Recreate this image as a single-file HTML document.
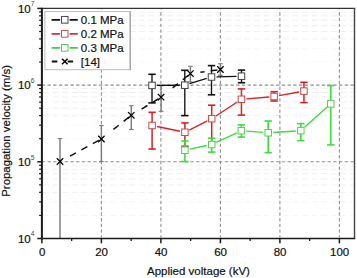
<!DOCTYPE html>
<html><head><meta charset="utf-8"><style>
html,body{margin:0;padding:0;background:#fff;}
body{width:357px;height:278px;overflow:hidden;font-family:"Liberation Sans",sans-serif;}
svg{display:block;}
</style></head><body>
<svg width="357" height="278" viewBox="0 0 357 278">
<rect width="357" height="278" fill="#fff"/>
<g stroke="#f0f0f0" stroke-width="1" stroke-dasharray="6.2 3.4" fill="none">
<line x1="42.9" y1="215.41" x2="354" y2="215.41" stroke="#f6f6f6"/>
<line x1="42.9" y1="201.9" x2="354" y2="201.9" stroke="#f6f6f6"/>
<line x1="42.9" y1="192.32" x2="354" y2="192.32"/>
<line x1="42.9" y1="184.89" x2="354" y2="184.89"/>
<line x1="42.9" y1="178.82" x2="354" y2="178.82"/>
<line x1="42.9" y1="173.68" x2="354" y2="173.68"/>
<line x1="42.9" y1="169.23" x2="354" y2="169.23"/>
<line x1="42.9" y1="165.31" x2="354" y2="165.31"/>
<line x1="42.9" y1="138.71" x2="354" y2="138.71" stroke="#f9f9f9"/>
<line x1="42.9" y1="125.2" x2="354" y2="125.2" stroke="#f9f9f9"/>
<line x1="42.9" y1="115.62" x2="354" y2="115.62"/>
<line x1="42.9" y1="108.19" x2="354" y2="108.19"/>
<line x1="42.9" y1="102.12" x2="354" y2="102.12"/>
<line x1="42.9" y1="96.98" x2="354" y2="96.98"/>
<line x1="42.9" y1="92.53" x2="354" y2="92.53"/>
<line x1="42.9" y1="88.61" x2="354" y2="88.61"/>
<line x1="42.9" y1="62.01" x2="354" y2="62.01" stroke="#f9f9f9"/>
<line x1="42.9" y1="48.5" x2="354" y2="48.5" stroke="#f9f9f9"/>
<line x1="42.9" y1="38.92" x2="354" y2="38.92"/>
<line x1="42.9" y1="31.49" x2="354" y2="31.49"/>
<line x1="42.9" y1="25.42" x2="354" y2="25.42"/>
<line x1="42.9" y1="20.28" x2="354" y2="20.28"/>
<line x1="42.9" y1="15.83" x2="354" y2="15.83"/>
<line x1="42.9" y1="11.91" x2="354" y2="11.91"/>
</g>
<g stroke="#909090" stroke-width="1.1" stroke-dasharray="3.4 2.315" fill="none">
<line x1="42.9" y1="161.8" x2="354" y2="161.8" stroke-dashoffset="-4.6"/>
<line x1="42.9" y1="85.1" x2="354" y2="85.1" stroke-dashoffset="-4.6"/>
<line x1="101.4" y1="9.4" x2="101.4" y2="237.5" stroke-dashoffset="-2.85"/>
<line x1="160.9" y1="9.4" x2="160.9" y2="237.5" stroke-dashoffset="-2.85"/>
<line x1="220.4" y1="9.4" x2="220.4" y2="237.5" stroke-dashoffset="-2.85"/>
<line x1="279.9" y1="9.4" x2="279.9" y2="237.5" stroke-dashoffset="-2.85"/>
<line x1="339.4" y1="9.4" x2="339.4" y2="237.5" stroke-dashoffset="-2.85"/>
</g>
<g stroke="#7c7c7c" stroke-width="1.45" fill="none">
<line x1="60" y1="138.6" x2="60" y2="239"/>
<line x1="57.7" y1="138.6" x2="62.3" y2="138.6" stroke-width="1.1"/>
<line x1="101.4" y1="125.5" x2="101.4" y2="161.5"/>
<line x1="99.1" y1="125.5" x2="103.7" y2="125.5" stroke-width="1.1"/>
<line x1="99.1" y1="161.5" x2="103.7" y2="161.5" stroke-width="1.2"/>
<line x1="131.3" y1="105.7" x2="131.3" y2="129.5"/>
<line x1="129" y1="105.7" x2="133.6" y2="105.7" stroke-width="1.1"/>
<line x1="129" y1="129.5" x2="133.6" y2="129.5" stroke-width="1.2"/>
<line x1="161.1" y1="85.8" x2="161.1" y2="111.3"/>
<line x1="158.8" y1="85.8" x2="163.4" y2="85.8" stroke-width="1.1"/>
<line x1="158.8" y1="111.3" x2="163.4" y2="111.3" stroke-width="1.2"/>
<line x1="190.4" y1="66.3" x2="190.4" y2="82"/>
<line x1="188.1" y1="66.3" x2="192.7" y2="66.3" stroke-width="1.1"/>
<line x1="188.1" y1="82" x2="192.7" y2="82" stroke-width="1.2"/>
<line x1="220.4" y1="63.7" x2="220.4" y2="75.3"/>
<line x1="218.1" y1="63.7" x2="222.7" y2="63.7" stroke-width="1.1"/>
<line x1="218.1" y1="75.3" x2="222.7" y2="75.3" stroke-width="1.2"/>
</g>
<path d="M98.76 140.43L92.79 143.68M87.34 146.64L81.37 149.89M75.92 152.85L69.95 156.09M128.95 117.16L123.62 121.39M118.76 125.24L113.43 129.46M158.54 98.76L152.72 102.29M147.42 105.51L141.61 109.04M188.06 75.48L182.77 79.75M177.94 83.64L172.64 87.9M217.43 69.91L210.69 70.83M204.55 71.67L200.31 72.25" stroke="#111" stroke-width="1.5" fill="none"/>
<g stroke="#000" stroke-width="1.25" fill="none">
<path d="M56.8 158.3L63.2 164.7M56.8 164.7L63.2 158.3"/>
<path d="M98.2 135.8L104.6 142.2M98.2 142.2L104.6 135.8"/>
<path d="M128.1 112.1L134.5 118.5M128.1 118.5L134.5 112.1"/>
<path d="M157.9 94L164.3 100.4M157.9 100.4L164.3 94"/>
<path d="M187.2 70.4L193.6 76.8M187.2 76.8L193.6 70.4"/>
<path d="M217.2 66.3L223.6 72.7M217.2 72.7L223.6 66.3"/>
</g>
<path d="M157 85.37L179.8 85.23M189.58 83.73L206.72 78.47M216.5 76.87L236.5 76.33" stroke="#111" stroke-width="1.3" fill="none"/>
<g stroke="#111" fill="none">
<line x1="152" y1="74.3" x2="152" y2="102.9" stroke-width="1.35"/>
<line x1="148.3" y1="74.3" x2="155.7" y2="74.3" stroke-width="1.6"/>
<line x1="148.3" y1="102.9" x2="155.7" y2="102.9" stroke-width="1.6"/>
<line x1="184.8" y1="70.3" x2="184.8" y2="115.6" stroke-width="1.35"/>
<line x1="181.1" y1="70.3" x2="188.5" y2="70.3" stroke-width="1.6"/>
<line x1="181.1" y1="115.6" x2="188.5" y2="115.6" stroke-width="1.6"/>
<line x1="211.5" y1="65.6" x2="211.5" y2="94.8" stroke-width="1.35"/>
<line x1="207.8" y1="65.6" x2="215.2" y2="65.6" stroke-width="1.6"/>
<line x1="207.8" y1="94.8" x2="215.2" y2="94.8" stroke-width="1.6"/>
<line x1="241.5" y1="70.1" x2="241.5" y2="82.7" stroke-width="1.35"/>
<line x1="237.8" y1="70.1" x2="245.2" y2="70.1" stroke-width="1.6"/>
<line x1="237.8" y1="82.7" x2="245.2" y2="82.7" stroke-width="1.6"/>
</g>
<g stroke="#444" stroke-width="1" fill="#fff">
<rect x="148.75" y="82.15" width="6.5" height="6.5"/>
<rect x="181.55" y="81.95" width="6.5" height="6.5"/>
<rect x="208.25" y="73.75" width="6.5" height="6.5"/>
<rect x="238.25" y="72.95" width="6.5" height="6.5"/>
</g>
<path d="M157 126.52L180 131.28M189.36 130.04L207.24 120.96M215.89 115.97L237.26 102.03M246.43 98.87L269.12 96.93M279.02 95.61L299.03 91.99" stroke="#d82222" stroke-width="1.4" fill="none"/>
<g stroke="#d82222" fill="none">
<line x1="152.1" y1="112.3" x2="152.1" y2="149" stroke-width="1.5"/>
<line x1="148.4" y1="112.3" x2="155.8" y2="112.3" stroke-width="1.6"/>
<line x1="148.4" y1="149" x2="155.8" y2="149" stroke-width="1.6"/>
<line x1="184.9" y1="122.9" x2="184.9" y2="146.3" stroke-width="1.5"/>
<line x1="181.2" y1="122.9" x2="188.6" y2="122.9" stroke-width="1.6"/>
<line x1="181.2" y1="146.3" x2="188.6" y2="146.3" stroke-width="1.6"/>
<line x1="211.7" y1="105.2" x2="211.7" y2="142" stroke-width="1.5"/>
<line x1="208" y1="105.2" x2="215.4" y2="105.2" stroke-width="1.6"/>
<line x1="208" y1="142" x2="215.4" y2="142" stroke-width="1.6"/>
<line x1="241.45" y1="88.9" x2="241.45" y2="115.1" stroke-width="1.5"/>
<line x1="237.75" y1="88.9" x2="245.15" y2="88.9" stroke-width="1.6"/>
<line x1="237.75" y1="115.1" x2="245.15" y2="115.1" stroke-width="1.6"/>
<line x1="274.1" y1="91.7" x2="274.1" y2="101" stroke-width="1.5"/>
<line x1="270.4" y1="91.7" x2="277.8" y2="91.7" stroke-width="1.6"/>
<line x1="270.4" y1="101" x2="277.8" y2="101" stroke-width="1.6"/>
<line x1="303.95" y1="82.3" x2="303.95" y2="102.6" stroke-width="1.5"/>
<line x1="300.25" y1="82.3" x2="307.65" y2="82.3" stroke-width="1.6"/>
<line x1="300.25" y1="102.6" x2="307.65" y2="102.6" stroke-width="1.6"/>
</g>
<g stroke="#c44a4a" stroke-width="1" fill="#fff">
<rect x="148.85" y="122.25" width="6.5" height="6.5"/>
<rect x="181.65" y="129.05" width="6.5" height="6.5"/>
<rect x="208.45" y="115.45" width="6.5" height="6.5"/>
<rect x="238.2" y="96.05" width="6.5" height="6.5"/>
<rect x="270.85" y="93.25" width="6.5" height="6.5"/>
<rect x="300.7" y="87.85" width="6.5" height="6.5"/>
</g>
<path d="M189.79 149.16L206.81 145.54M216.23 142.39L236.77 132.81M246.28 131.09L263.22 132.41M273.19 132.46L295.81 130.94M304.53 127.27L327.02 107.23" stroke="#3ddc3d" stroke-width="1.4" fill="none"/>
<g stroke="#3ddc3d" fill="none">
<line x1="184.9" y1="140.9" x2="184.9" y2="161.6" stroke-width="1.6"/>
<line x1="181.2" y1="140.9" x2="188.6" y2="140.9" stroke-width="1.6"/>
<line x1="181.2" y1="161.6" x2="188.6" y2="161.6" stroke-width="1.6"/>
<line x1="211.7" y1="138.2" x2="211.7" y2="152.1" stroke-width="1.6"/>
<line x1="208" y1="138.2" x2="215.4" y2="138.2" stroke-width="1.6"/>
<line x1="208" y1="152.1" x2="215.4" y2="152.1" stroke-width="1.6"/>
<line x1="241.3" y1="124.9" x2="241.3" y2="137.1" stroke-width="1.6"/>
<line x1="237.6" y1="124.9" x2="245" y2="124.9" stroke-width="1.6"/>
<line x1="237.6" y1="137.1" x2="245" y2="137.1" stroke-width="1.6"/>
<line x1="268.2" y1="121" x2="268.2" y2="152.6" stroke-width="1.6"/>
<line x1="264.5" y1="121" x2="271.9" y2="121" stroke-width="1.6"/>
<line x1="264.5" y1="152.6" x2="271.9" y2="152.6" stroke-width="1.6"/>
<line x1="300.8" y1="123.6" x2="300.8" y2="140.6" stroke-width="1.6"/>
<line x1="297.1" y1="123.6" x2="304.5" y2="123.6" stroke-width="1.6"/>
<line x1="297.1" y1="140.6" x2="304.5" y2="140.6" stroke-width="1.6"/>
<line x1="330.75" y1="85.6" x2="330.75" y2="144.9" stroke-width="1.6"/>
<line x1="327.05" y1="85.6" x2="334.45" y2="85.6" stroke-width="1.6"/>
<line x1="327.05" y1="144.9" x2="334.45" y2="144.9" stroke-width="1.6"/>
</g>
<g stroke="#55cc55" stroke-width="1" fill="#fff">
<rect x="181.65" y="146.95" width="6.5" height="6.5"/>
<rect x="208.45" y="141.25" width="6.5" height="6.5"/>
<rect x="238.05" y="127.45" width="6.5" height="6.5"/>
<rect x="264.95" y="129.55" width="6.5" height="6.5"/>
<rect x="297.55" y="127.35" width="6.5" height="6.5"/>
<rect x="327.5" y="100.65" width="6.5" height="6.5"/>
</g>
<g fill="none" stroke-linecap="butt">
<line x1="41.9" y1="8.4" x2="355.2" y2="8.4" stroke="#333" stroke-width="1.3"/>
<line x1="354.5" y1="8.4" x2="354.5" y2="238.5" stroke="#444" stroke-width="1.4"/>
<line x1="41.9" y1="7.8" x2="41.9" y2="239.5" stroke="#1a1a1a" stroke-width="2"/>
<line x1="40.9" y1="238.5" x2="355.2" y2="238.5" stroke="#1a1a1a" stroke-width="1.7"/>
</g>
<g stroke="#1a1a1a" fill="none">
<line x1="37.3" y1="238.5" x2="41.9" y2="238.5" stroke-width="1.5"/>
<line x1="37.3" y1="161.8" x2="41.9" y2="161.8" stroke-width="1.5"/>
<line x1="37.3" y1="85.1" x2="41.9" y2="85.1" stroke-width="1.5"/>
<line x1="37.3" y1="8.4" x2="41.9" y2="8.4" stroke-width="1.5"/>
<line x1="39.1" y1="215.41" x2="41.9" y2="215.41" stroke-width="1.2"/>
<line x1="39.1" y1="201.9" x2="41.9" y2="201.9" stroke-width="1.2"/>
<line x1="39.1" y1="192.32" x2="41.9" y2="192.32" stroke-width="1.2"/>
<line x1="39.1" y1="184.89" x2="41.9" y2="184.89" stroke-width="1.2"/>
<line x1="39.1" y1="178.82" x2="41.9" y2="178.82" stroke-width="1.2"/>
<line x1="39.1" y1="173.68" x2="41.9" y2="173.68" stroke-width="1.2"/>
<line x1="39.1" y1="169.23" x2="41.9" y2="169.23" stroke-width="1.2"/>
<line x1="39.1" y1="165.31" x2="41.9" y2="165.31" stroke-width="1.2"/>
<line x1="39.1" y1="138.71" x2="41.9" y2="138.71" stroke-width="1.2"/>
<line x1="39.1" y1="125.2" x2="41.9" y2="125.2" stroke-width="1.2"/>
<line x1="39.1" y1="115.62" x2="41.9" y2="115.62" stroke-width="1.2"/>
<line x1="39.1" y1="108.19" x2="41.9" y2="108.19" stroke-width="1.2"/>
<line x1="39.1" y1="102.12" x2="41.9" y2="102.12" stroke-width="1.2"/>
<line x1="39.1" y1="96.98" x2="41.9" y2="96.98" stroke-width="1.2"/>
<line x1="39.1" y1="92.53" x2="41.9" y2="92.53" stroke-width="1.2"/>
<line x1="39.1" y1="88.61" x2="41.9" y2="88.61" stroke-width="1.2"/>
<line x1="39.1" y1="62.01" x2="41.9" y2="62.01" stroke-width="1.2"/>
<line x1="39.1" y1="48.5" x2="41.9" y2="48.5" stroke-width="1.2"/>
<line x1="39.1" y1="38.92" x2="41.9" y2="38.92" stroke-width="1.2"/>
<line x1="39.1" y1="31.49" x2="41.9" y2="31.49" stroke-width="1.2"/>
<line x1="39.1" y1="25.42" x2="41.9" y2="25.42" stroke-width="1.2"/>
<line x1="39.1" y1="20.28" x2="41.9" y2="20.28" stroke-width="1.2"/>
<line x1="39.1" y1="15.83" x2="41.9" y2="15.83" stroke-width="1.2"/>
<line x1="39.1" y1="11.91" x2="41.9" y2="11.91" stroke-width="1.2"/>
<line x1="41.9" y1="238.5" x2="41.9" y2="243.3" stroke-width="1.5"/>
<line x1="101.4" y1="238.5" x2="101.4" y2="243.3" stroke-width="1.5"/>
<line x1="160.9" y1="238.5" x2="160.9" y2="243.3" stroke-width="1.5"/>
<line x1="220.4" y1="238.5" x2="220.4" y2="243.3" stroke-width="1.5"/>
<line x1="279.9" y1="238.5" x2="279.9" y2="243.3" stroke-width="1.5"/>
<line x1="339.4" y1="238.5" x2="339.4" y2="243.3" stroke-width="1.5"/>
<line x1="71.65" y1="238.5" x2="71.65" y2="241.1" stroke-width="1.3"/>
<line x1="131.15" y1="238.5" x2="131.15" y2="241.1" stroke-width="1.3"/>
<line x1="190.65" y1="238.5" x2="190.65" y2="241.1" stroke-width="1.3"/>
<line x1="250.15" y1="238.5" x2="250.15" y2="241.1" stroke-width="1.3"/>
<line x1="309.65" y1="238.5" x2="309.65" y2="241.1" stroke-width="1.3"/>
</g>
<g font-family="&quot;Liberation Sans&quot;, sans-serif" fill="#111" stroke="#111" stroke-width="0.2">
<text x="30.7" y="242.7" font-size="11.5" text-anchor="end">10</text>
<text x="30.7" y="236.3" font-size="6.7" fill="#444" stroke="none">4</text>
<text x="30.7" y="166" font-size="11.5" text-anchor="end">10</text>
<text x="30.7" y="159.6" font-size="6.7" fill="#444" stroke="none">5</text>
<text x="30.7" y="89.3" font-size="11.5" text-anchor="end">10</text>
<text x="30.7" y="82.9" font-size="6.7" fill="#444" stroke="none">6</text>
<text x="30.7" y="12.6" font-size="11.5" text-anchor="end">10</text>
<text x="30.7" y="6.2" font-size="6.7" fill="#444" stroke="none">7</text>
<text x="42.1" y="255.5" font-size="11.5" text-anchor="middle">0</text>
<text x="101.6" y="255.5" font-size="11.5" text-anchor="middle">20</text>
<text x="161.1" y="255.5" font-size="11.5" text-anchor="middle">40</text>
<text x="220.6" y="255.5" font-size="11.5" text-anchor="middle">60</text>
<text x="280.1" y="255.5" font-size="11.5" text-anchor="middle">80</text>
<text x="339.6" y="255.5" font-size="11.5" text-anchor="middle">100</text>
<text x="198.5" y="274.8" font-size="11.5" text-anchor="middle">Applied voltage (kV)</text>
<text transform="translate(10.2,130.9) rotate(-90)" font-size="11.4" text-anchor="middle">Propagation velocity (m/s)</text>
</g>
<rect x="44.9" y="11.6" width="85.3" height="58.1" fill="#fff" stroke="#bdbdbd" stroke-width="1"/>
<line x1="130.2" y1="11.5" x2="130.2" y2="70" stroke="#a0a0a0" stroke-width="1.2"/>
<path d="M51.6 19.8H60.1M69.6 19.8H77.8" stroke="#111" stroke-width="1.8"/>
<rect x="61.5" y="16.45" width="6.5" height="6.7" fill="#fff" stroke="#444" stroke-width="1"/>
<text x="80.8" y="23.6" font-family="&quot;Liberation Sans&quot;, sans-serif" font-size="11.5" fill="#111" stroke="#111" stroke-width="0.2">0.1 MPa</text>
<path d="M51.6 33.8H60.1M69.6 33.8H77.8" stroke="#c43c3c" stroke-width="1.8"/>
<rect x="61.5" y="30.45" width="6.5" height="6.7" fill="#fff" stroke="#c45050" stroke-width="1"/>
<text x="80.8" y="37.6" font-family="&quot;Liberation Sans&quot;, sans-serif" font-size="11.5" fill="#111" stroke="#111" stroke-width="0.2">0.2 MPa</text>
<path d="M51.6 47.8H60.1M69.6 47.8H77.8" stroke="#44cc44" stroke-width="1.8"/>
<rect x="61.5" y="44.45" width="6.5" height="6.7" fill="#fff" stroke="#55c855" stroke-width="1"/>
<text x="80.8" y="51.6" font-family="&quot;Liberation Sans&quot;, sans-serif" font-size="11.5" fill="#111" stroke="#111" stroke-width="0.2">0.3 MPa</text>
<path d="M51.8 61.5H57.4M67.7 61.5H73.1" stroke="#111" stroke-width="1.8"/>
<path d="M62 58.7L67.6 64.3M62 64.3L67.6 58.7" stroke="#000" stroke-width="1.5"/>
<text x="80.8" y="65.6" font-family="&quot;Liberation Sans&quot;, sans-serif" font-size="11.5" fill="#111" stroke="#111" stroke-width="0.2">[14]</text>
</svg>
</body></html>
